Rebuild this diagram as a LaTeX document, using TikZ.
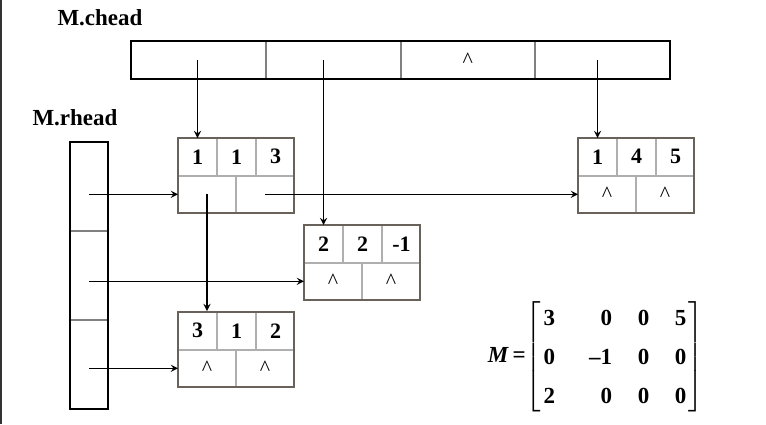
\documentclass[tikz,border=0pt]{standalone}
\usepackage{mathptmx}
\usepackage{fontspec}
\setmainfont{Liberation Serif}
\usetikzlibrary{arrows, positioning, fit}
\newcommand{\cellheight}{18.25pt}
\newcommand{\topwidth}{19pt}
\newcommand{\botwidth}{28.5pt}
\newcommand{\bd}[1]{\textbf{#1}}
\definecolor{framegray}{RGB}{105,98,90}
\definecolor{linegray}{RGB}{175,175,175}
\tikzstyle{topcell} = [% row, column, value cell
  rectangle,
  minimum width=\topwidth,
  minimum height=\cellheight,
  inner sep=0pt,
  draw=linegray,
  line width=0.5pt,
  font=\fontsize{11}{13}\selectfont\bfseries
  ]
\tikzstyle{botcell} = [% down, right pointer cell
  rectangle,
  minimum width=\botwidth,
  minimum height=\cellheight,
  inner sep=0pt,
  draw=linegray,
  line width=0.5pt,
  font=\fontsize{11}{13}\selectfont
  ]
\tikzstyle{frame} = [% outline of one element
  rectangle,
  draw=framegray,
  line width=1pt,
  inner sep=0pt
  ]
\tikzstyle{headcell} = [% cell of a head vector
  rectangle,
  inner sep=0pt,
  draw=gray,
  line width=0.5pt,
  font=\fontsize{11}{13}\selectfont
  ]
\tikzstyle{headframe} = [% outline of a head vector
  rectangle,
  draw=black,
  line width=1pt,
  inner sep=0pt
  ]
\tikzstyle{headlabel} = [% name of a head vector
  font=\fontsize{11.5}{13}\selectfont\bfseries
  ]
\tikzstyle{arrow} = [% arrow format
  line width=0.6pt,
  ->,
  >=stealth
  ]
\newcommand{\olnode}[7]{% name, corner, i, j, value, down, right
  \node[topcell, anchor=north west] (#1-i) at (#2) {#3};
  \node[topcell, right=0pt of #1-i] (#1-j) {#4};
  \node[topcell, right=0pt of #1-j] (#1-v) {#5};
  \node[botcell, anchor=north west] (#1-d) at (#1-i.south west) {#6};
  \node[botcell, right=0pt of #1-d] (#1-r) {#7};
  \node[frame, fit=(#1-i)(#1-r)] (#1) {};
}
\begin{document}
\begin{tikzpicture}[x=0.5pt, y=-0.5pt]
\useasboundingbox (0,0) rectangle (766,424);
\draw[line width=1pt, black!80] (1,0) -- (1,424);

%%% Head vectors
\node[headlabel] (chlabel) at (100,18) {M.chead};
\node[headlabel] (rhlabel) at (75,118) {M.rhead};
\begin{scope}[every node/.append style={headcell, minimum width=66.875pt, minimum height=18.5pt}]
  \node[anchor=north west] (ch1) at (131,41) {};
  \node[right=0pt of ch1] (ch2) {};
  \node[right=0pt of ch2] (ch3) {\textasciicircum};
  \node[right=0pt of ch3] (ch4) {};
\end{scope}
\node[headframe, fit=(ch1)(ch4)] (chead) {};
\begin{scope}[every node/.append style={headcell, minimum width=18.5pt, minimum height=44pt}]
  \node[anchor=north west] (rh1) at (70,142) {};
  \node[below=0pt of rh1] (rh2) {};
  \node[below=0pt of rh2] (rh3) {};
\end{scope}
\node[headframe, fit=(rh1)(rh3)] (rhead) {};

%%% Elements
\olnode{e11}{178,138}{1}{1}{3}{}{}
\olnode{e14}{578,138}{1}{4}{5}{\textasciicircum}{\textasciicircum}
\olnode{e22}{304,225}{2}{2}{-1}{\textasciicircum}{\textasciicircum}
\olnode{e31}{178,312}{3}{1}{2}{\textasciicircum}{\textasciicircum}

%%% Pointers
\draw[arrow] (e11-i.north |- ch1.center) -- (e11-i.north);
\draw[arrow] (e22-i.north |- ch2.center) -- (e22-i.north);
\draw[arrow] (e14-i.north |- ch4.center) -- (e14-i.north);
\draw[arrow] (rh1.center |- e11-d.west) -- (e11-d.west);
\draw[arrow] (rh2.center |- e22-d.west) -- (e22-d.west);
\draw[arrow] (rh3.center |- e31-d.west) -- (e31-d.west);
\draw[arrow] (e11-r.center) -- (e14-d.west);
\draw[arrow] (e11-d.center) -- (e11-d.center |- e31.north);

%%% Matrix
\node[font=\fontsize{11.5}{13}\selectfont] (matM) at (596,357) {\renewcommand{\arraystretch}{1.5}%
  \bd{\textit{M}}\,\bd{=}$\left[\begin{array}{@{\,}l@{\hspace{17pt}}r@{\hspace{12.8pt}}r@{\hspace{12.8pt}}r@{\,}}
  \bd{3} & \bd{0} & \bd{0} & \bd{5}\\
  \bd{0} & \bd{–1} & \bd{0} & \bd{0}\\
  \bd{2} & \bd{0} & \bd{0} & \bd{0}
  \end{array}\right]$};

\end{tikzpicture}
\end{document}
